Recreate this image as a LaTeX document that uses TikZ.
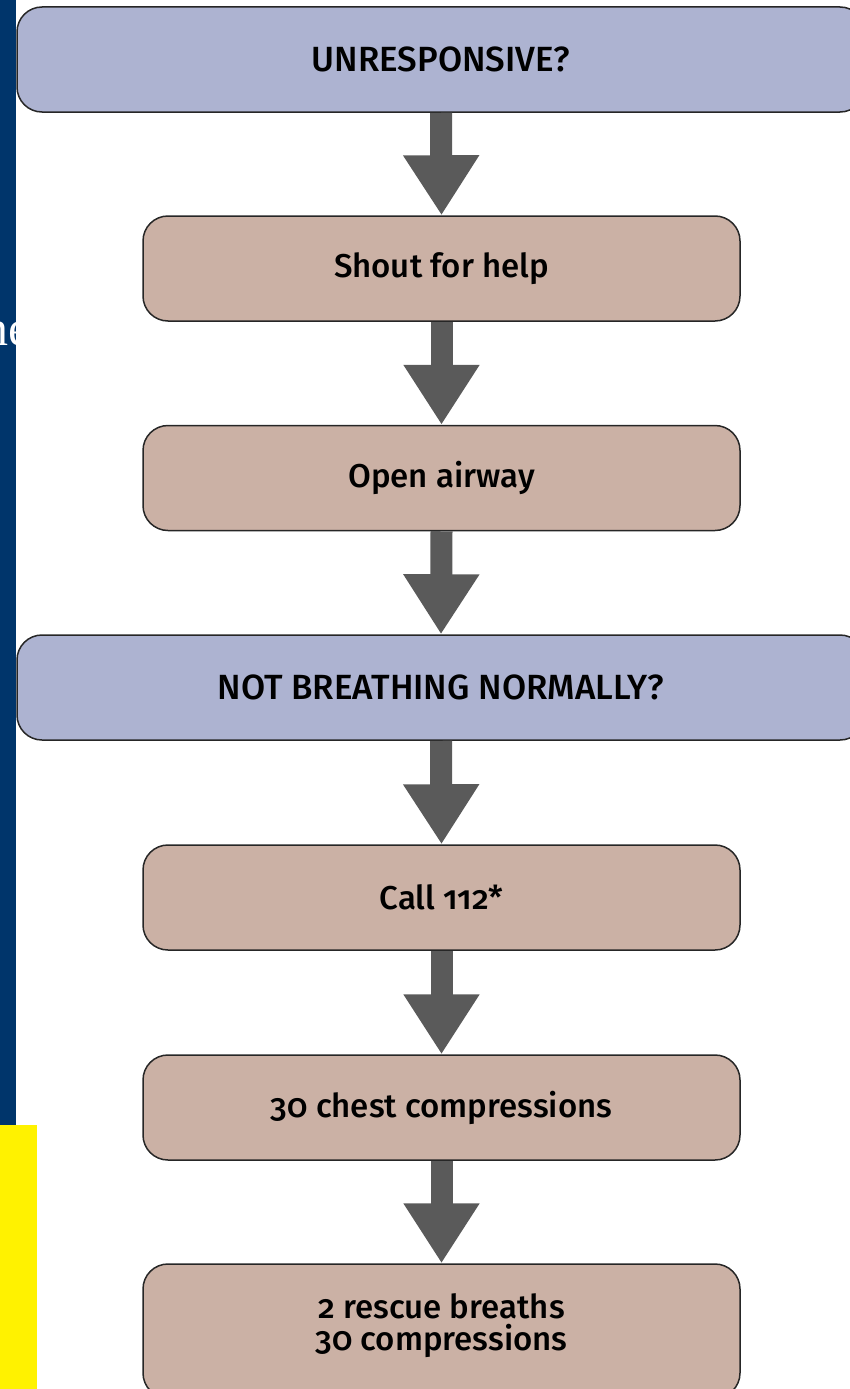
\documentclass[tikz,border=0pt]{standalone}
\usepackage{fontspec}
\setmainfont{Fira Sans}[Numbers=OldStyle,UprightFont=* Medium]
\newfontfamily\stripfont{Liberation Serif}
\usetikzlibrary{arrows.meta}
\definecolor{navy}{HTML}{00356B}
\definecolor{askblue}{HTML}{ADB3D1}
\definecolor{actbrown}{HTML}{CBB1A5}
\definecolor{arrowgray}{HTML}{5A5A5A}
\tikzset{
  askbox/.style={draw=black!85,line width=1.5pt,fill=askblue,rounded corners=25pt,minimum width=848pt,minimum height=105pt,font=\fontsize{35}{32}\selectfont},
  actbox/.style={draw=black!85,line width=1.5pt,fill=actbrown,rounded corners=25pt,minimum width=597pt,minimum height=105pt,align=center,font=\fontsize{33}{32}\selectfont},
  flow/.style={arrowgray,line width=22pt,-{Triangle[width=72pt,length=60pt]}}
}
\begin{document}
\begin{tikzpicture}[x=1pt,y=-1pt]
\useasboundingbox (0,0) rectangle (850,1389);
\clip (0,0) rectangle (850,1389);
\fill[navy] (0,0) rectangle (16,1125);
\fill[yellow] (0,1125) rectangle (37,1389);
\begin{scope}
\clip (0,0) rectangle (16,1125);
\node[anchor=base east,inner sep=0pt,text=white,font=\stripfont\fontsize{50}{50}\selectfont] (strip) at (31,345) {ne};
\end{scope}
\node[askbox] (unresp) at (441,59.5) {UNRESPONSIVE?};
\node[actbox] (shout) at (441.5,268.5) {Shout for help};
\node[actbox] (airway) at (441.5,478) {Open airway};
\node[askbox] (breathing) at (441,687.5) {NOT BREATHING NORMALLY?};
\node[actbox] (call) at (441.5,897.5) {Call 112*};
\node[actbox] (chest) at (441.5,1107.5) {30 chest compressions};
\node[actbox,minimum height=134pt,text depth=17pt] (rescue) at (441.5,1331) {2 rescue breaths\\30 compressions};
\draw[flow] (unresp.south) -- (shout.north);
\draw[flow] (shout.south) -- (airway.north);
\draw[flow] (airway.south) -- (breathing.north);
\draw[flow] (breathing.south) -- (call.north);
\draw[flow] (call.south) -- (chest.north);
\draw[flow] (chest.south) -- (rescue.north);
\end{tikzpicture}
\end{document}
